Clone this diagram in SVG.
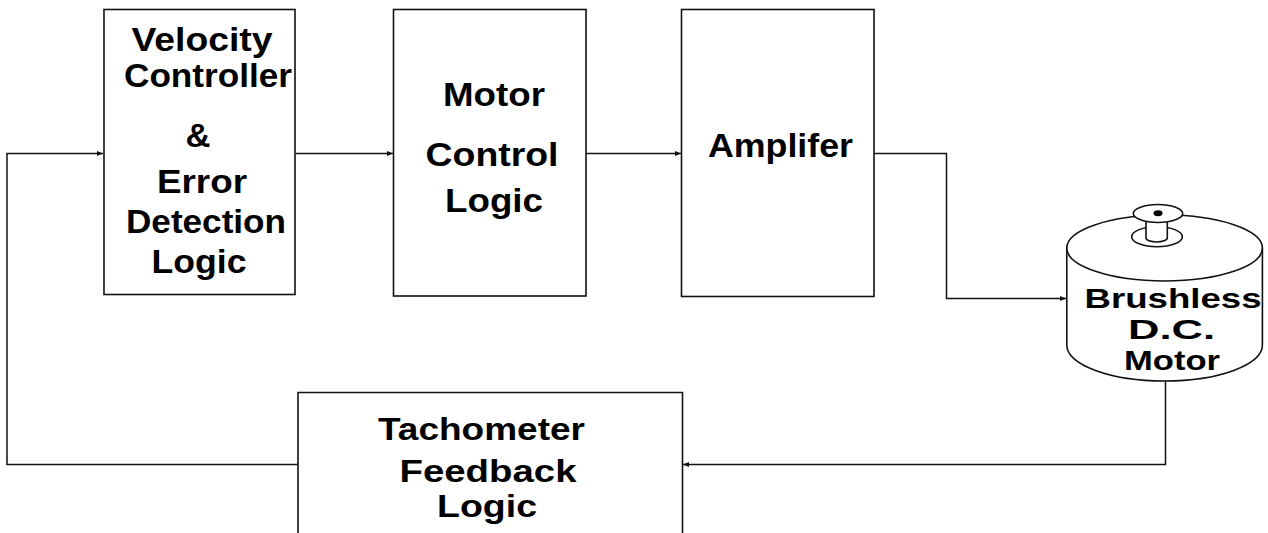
<svg xmlns="http://www.w3.org/2000/svg" width="1268" height="533" viewBox="0 0 1268 533">
<style>
.box{fill:#fff;stroke:#111;stroke-width:1.6}
.ln{fill:none;stroke:#111;stroke-width:1.5}
.sh{fill:#fff;stroke:#111;stroke-width:1.6}
text{font-family:"Liberation Sans",Arial,Helvetica,sans-serif;font-weight:bold;font-size:34px;fill:#000;text-anchor:middle}
.sm{font-size:28px}
.md{font-size:32px}
</style>
<defs>
<marker id="ah" viewBox="0 0 10 10" refX="10" refY="5" markerWidth="7" markerHeight="6" markerUnits="userSpaceOnUse" orient="auto">
<path d="M0,1 L10,5 L0,9 Z" fill="#111"/>
</marker>
</defs>
<rect width="1268" height="533" fill="#fff"/>
<g id="connectors">
<path class="ln" d="M296,153.5 H393" marker-end="url(#ah)"/>
<path class="ln" d="M586,153.5 H681" marker-end="url(#ah)"/>
<path class="ln" d="M874,153.5 H946.5 V298.5 H1066" marker-end="url(#ah)"/>
<path class="ln" d="M1165.5,381 V464.5 H683" marker-end="url(#ah)"/>
<path class="ln" d="M298,464.5 H7 V153.5 H103" marker-end="url(#ah)"/>
</g>
<g id="velocity">
<rect class="box" x="104" y="9.5" width="191" height="285"/>
<text x="202" y="51" textLength="141" lengthAdjust="spacingAndGlyphs">Velocity</text>
<text x="208" y="87" textLength="168" lengthAdjust="spacingAndGlyphs">Controller</text>
<text x="198" y="147" textLength="25" lengthAdjust="spacingAndGlyphs">&amp;</text>
<text x="202" y="193" textLength="90" lengthAdjust="spacingAndGlyphs">Error</text>
<text x="206" y="233" textLength="160" lengthAdjust="spacingAndGlyphs">Detection</text>
<text x="199" y="273" textLength="95" lengthAdjust="spacingAndGlyphs">Logic</text>
</g>
<g id="motorcontrol">
<rect class="box" x="393.5" y="9.5" width="192.5" height="286.5"/>
<text x="494" y="106" textLength="102" lengthAdjust="spacingAndGlyphs">Motor</text>
<text x="492" y="166" textLength="133" lengthAdjust="spacingAndGlyphs">Control</text>
<text x="494" y="212" textLength="98" lengthAdjust="spacingAndGlyphs">Logic</text>
</g>
<g id="amplifier">
<rect class="box" x="681.5" y="9.5" width="192.5" height="287"/>
<text x="780.5" y="156.5" textLength="145" lengthAdjust="spacingAndGlyphs">Amplifer</text>
</g>
<g id="motor">
<path class="sh" d="M1066.8,248 V345 A97.8,36 0 0 0 1262.4,345 V248"/>
<ellipse class="sh" cx="1164.6" cy="248" rx="97.8" ry="33"/>
<ellipse class="sh" cx="1157" cy="236.7" rx="25.3" ry="10"/>
<path class="sh" d="M1146,219 V238 A10.65,4 0 0 0 1167.3,238 V219 Z"/>
<ellipse class="sh" cx="1158" cy="213.5" rx="24.7" ry="9"/>
<ellipse cx="1158" cy="213.3" rx="4.5" ry="3" fill="#000"/>
<text class="sm" x="1173" y="308" textLength="177" lengthAdjust="spacingAndGlyphs">Brushless</text>
<text class="sm" x="1171.5" y="338.5" textLength="87" lengthAdjust="spacingAndGlyphs">D.C.</text>
<text class="sm" x="1172" y="370" textLength="96" lengthAdjust="spacingAndGlyphs">Motor</text>
</g>
<g id="tachometer">
<path class="box" d="M298,533 V392.5 H682.5 V533"/>
<text class="md" x="481.5" y="440" textLength="207" lengthAdjust="spacingAndGlyphs">Tachometer</text>
<text class="md" x="488" y="481.5" textLength="177" lengthAdjust="spacingAndGlyphs">Feedback</text>
<text class="md" x="487" y="516.5" textLength="100" lengthAdjust="spacingAndGlyphs">Logic</text>
</g>
</svg>
